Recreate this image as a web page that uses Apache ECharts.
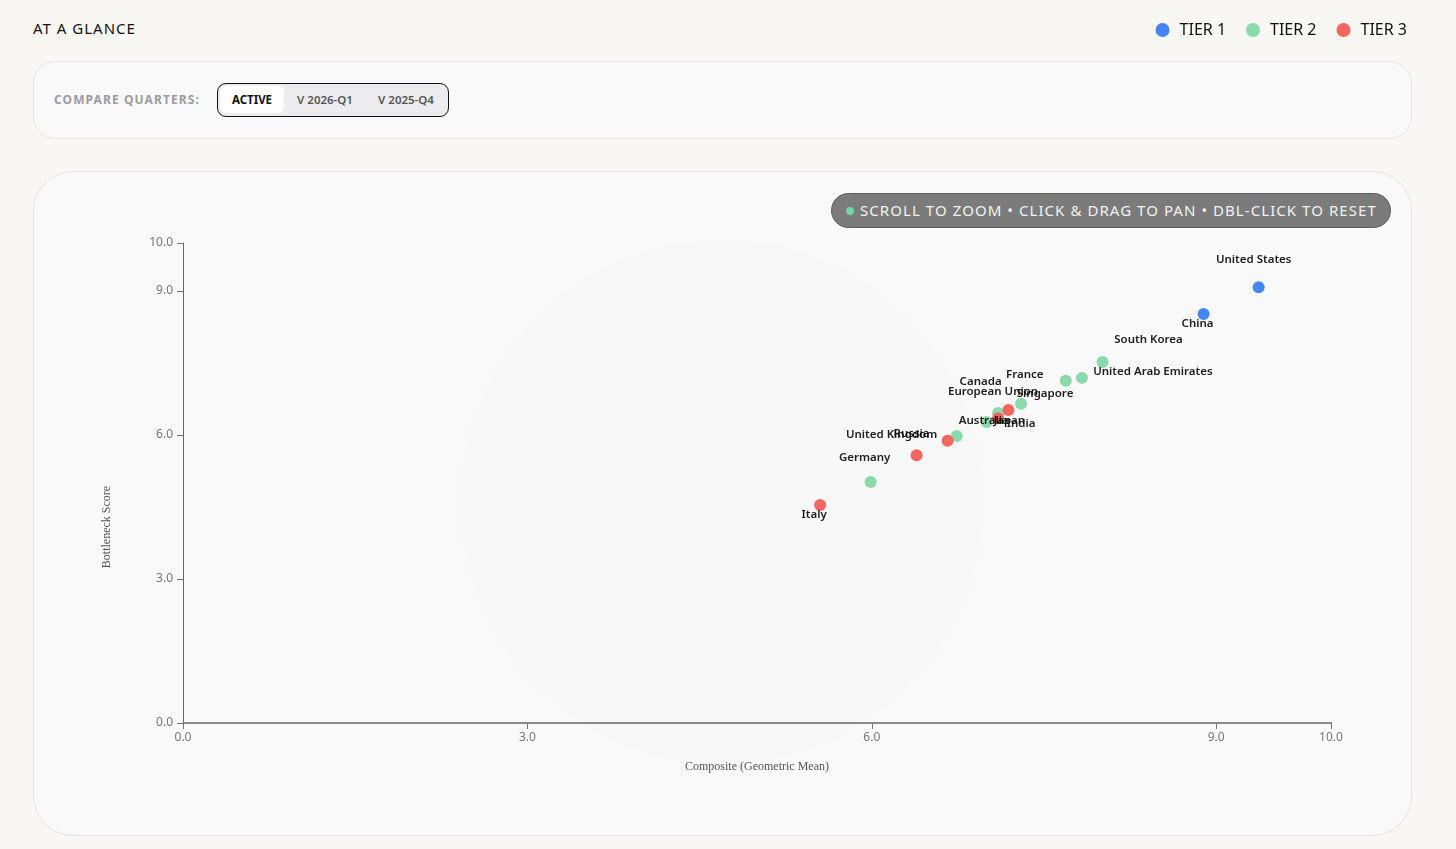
<!DOCTYPE html>
<html>
<head>
<meta charset="utf-8">
<title>At a glance</title>
<script src="https://cdn.jsdelivr.net/npm/echarts@6/dist/echarts.min.js"></script>
<style>
    html, body { margin: 0; padding: 0; }
    body { width: 1456px; height: 849px; background: #f8f7f4; font-family: 'Noto Sans', sans-serif; position: relative; overflow: hidden; }
    .title { position: absolute; left: 33px; top: 18px; font-size: 15px; letter-spacing: 1px; color: #111; font-weight: 400; }
    .card { position: absolute; background: #f9f9f9; border: 1px solid #e4e4e4; box-sizing: border-box; }
    .compare { left: 33px; top: 61px; width: 1379px; height: 78px; border-radius: 22px; }
    .compare .lbl { position: absolute; left: 20px; top: 29px; font-size: 12px; font-weight: 700; letter-spacing: 1.1px; color: #9b9ba3; }
    .seg { position: absolute; left: 183px; top: 21px; width: 232px; height: 34px; box-sizing: border-box; border: 1.5px solid #111; border-radius: 9px; background: #ececee; }
    .seg span { position: absolute; top: 2px; height: 27px; line-height: 27px; font-size: 11.5px; font-weight: 600; color: #555; text-align: center; }
    .seg .on { left: 2px; width: 64px; background: #fff; border-radius: 6px; color: #111; font-weight: 700; }
    .plot { left: 33px; top: 171px; width: 1379px; height: 665px; border-radius: 40px; }
    .wm { position: absolute; left: 425px; top: 67px; width: 526px; height: 526px; border-radius: 50%; background: rgba(0,0,0,0.004); }
    .pill { position: absolute; left: 797px; top: 21px; width: 560px; height: 35px; box-sizing: border-box; background: #7b7b7b; border: 1px solid #5c5c5c; border-radius: 18px; color: #f2f2f2; font-size: 15px; letter-spacing: 1.06px; line-height: 33px; padding-left: 28px; white-space: nowrap; }
    .pill i { position: absolute; left: 14px; top: 13px; width: 8px; height: 8px; border-radius: 50%; background: #6fd6a8; }
    #chart { position: absolute; left: 0; top: 0; width: 1456px; height: 849px; z-index: 2; }
</style>
</head>
<body>
<div class="title">AT A GLANCE</div>
<div class="card compare">
    <div class="lbl">COMPARE QUARTERS:</div>
    <div class="seg">
        <span class="on">ACTIVE</span>
        <span style="left:70px;width:74px;">V 2026-Q1</span>
        <span style="left:150px;width:76px;">V 2025-Q4</span>
    </div>
</div>
<div class="card plot">
    <div class="wm"></div>
    <div class="pill"><i></i>SCROLL TO ZOOM • CLICK &amp; DRAG TO PAN • DBL-CLICK TO RESET</div>
</div>
<div id="chart"></div>
<script>
    // 数据
    var countries = ['Italy', 'Germany', 'Russia', 'United Kingdom', 'Australia', 'Canada', 'European Union', 'India', 'Japan', 'Singapore', 'France', 'United Arab Emirates', 'South Korea', 'China', 'United States'];
    var composite = [5.55, 5.99, 6.39, 6.66, 6.74, 7.00, 7.10, 7.10, 7.19, 7.30, 7.69, 7.83, 8.01, 8.89, 9.37];
    var bottleneck = [4.54, 5.02, 5.58, 5.88, 5.98, 6.27, 6.46, 6.35, 6.52, 6.65, 7.13, 7.19, 7.52, 8.52, 9.08];
    var tiers = [3, 2, 3, 3, 2, 2, 2, 3, 3, 2, 2, 2, 2, 1, 1];
    var tierNames = ['TIER 1', 'TIER 2', 'TIER 3'];
    var xTicks = [0, 3, 6, 9, 10];
    var yTicks = [0, 3, 6, 9, 10];

    // label placement (px, relative to the dot)
    var labelOffsets = [[-6, 10], [-6, -24], [-5, -21], [-56, -6], [27, -15], [-6, -40], [-5, -21], [23, 6], [1, 11], [24, -10], [-41, -6], [71, -6], [46, -22], [-6, 10], [-5, -27]];
    var tierColors = ['#3b7ff5', '#84d8a6', '#f65e58'];

    var myChart = echarts.init(document.getElementById('chart'), null, { renderer: 'canvas' });

    var series = tierNames.map(function (name, t) {
        var data = [];
        var idx = [];
        for (var i = 0; i < countries.length; i++) {
            if (tiers[i] !== t + 1) continue;
            idx.push(i);
            data.push({ name: countries[i], value: [composite[i], bottleneck[i]] });
        }
        return {
            name: name,
            type: 'scatter',
            symbolSize: 12,
            itemStyle: { color: tierColors[t], opacity: 0.95 },
            label: {
                show: true,
                position: 'inside',
                formatter: '{b}',
                color: '#111',
                fontSize: 11.5,
                fontWeight: 600,
                fontFamily: 'Noto Sans'
            },
            labelLayout: function (params) {
                var off = labelOffsets[idx[params.dataIndex]];
                return { dx: off[0], dy: off[1], hideOverlap: false };
            },
            data: data
        };
    });

    function axisCommon(lineColor, lineWidth) {
        return {
            type: 'value',
            min: 0,
            max: 10,
            interval: 3,
            axisLine: { show: true, lineStyle: { color: lineColor, width: lineWidth } },
            axisTick: { show: true, length: 6, lineStyle: { color: '#777' } },
            axisLabel: {
                color: '#777',
                fontSize: 12,
                fontFamily: 'Noto Sans',
                margin: 9,
                formatter: function (v) { return v.toFixed(1); }
            },
            splitLine: { show: false }
        };
    }

    var xAxis = axisCommon('#8a8a8a', 2);
    xAxis.name = 'Composite (Geometric Mean)';
    xAxis.nameLocation = 'middle';
    xAxis.nameGap = 38;
    xAxis.nameTextStyle = { fontFamily: 'Liberation Serif', fontSize: 12, color: '#555' };
    xAxis.customValues = xTicks;

    var yAxis = axisCommon('#666', 1);
    yAxis.axisLabel.margin = 10;
    yAxis.customValues = yTicks;

    var option = {
        backgroundColor: 'transparent',
        animation: false,
        legend: {
            top: 17,
            right: 44,
            icon: 'circle',
            itemWidth: 14,
            itemHeight: 14,
            itemGap: 20,
            textStyle: { color: '#111', fontSize: 16, fontFamily: 'Noto Sans', padding: [0, 0, 0, 5] },
            data: tierNames
        },
        grid: { left: 183, right: 125, top: 243, bottom: 126, containLabel: false },
        xAxis: xAxis,
        yAxis: yAxis,
        graphic: [{
            type: 'text',
            x: 107,
            y: 527,
            rotation: Math.PI / 2,
            style: {
                text: 'Bottleneck Score',
                fontFamily: 'Liberation Serif',
                fontSize: 12,
                fill: '#555',
                align: 'center',
                verticalAlign: 'middle'
            }
        }],
        series: series
    };
    myChart.setOption(option);
</script>
</body>
</html>
